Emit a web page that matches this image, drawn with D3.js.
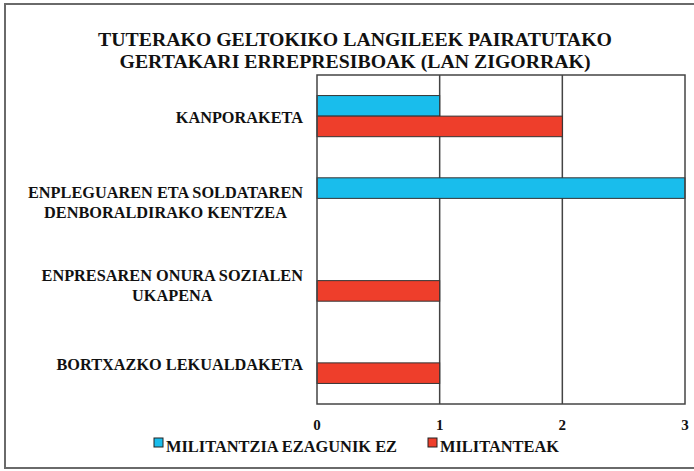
<!DOCTYPE html>
<html>
<head>
<meta charset="utf-8">
<script src="https://cdn.jsdelivr.net/npm/d3@7"></script>
<style>
  body { margin: 0; background: #fff; }
  svg { display: block; }
  text { font-family: "Liberation Serif", "Times New Roman", serif; font-weight: 700; fill: #111; }
</style>
</head>
<body>
<svg id="chart" width="694" height="471"></svg>
<script>
const titleLines = ["TUTERAKO GELTOKIKO LANGILEEK PAIRATUTAKO", "GERTAKARI ERREPRESIBOAK (LAN ZIGORRAK)"];
const categories = [
    ["KANPORAKETA"],
    ["ENPLEGUAREN ETA SOLDATAREN", "DENBORALDIRAKO KENTZEA"],
    ["ENPRESAREN ONURA SOZIALEN", "UKAPENA"],
    ["BORTXAZKO LEKUALDAKETA"]
];
const seriesNames = ["MILITANTZIA EZAGUNIK EZ", "MILITANTEAK"];
const unknownValues = [1, 3, 0, 0];
const militantValues = [2, 0, 1, 1];
const xTicks = [0, 1, 2, 3];
const colors = ["#19bdec", "#ee3e2b"];

const svg = d3.select("#chart");

// outer frame
svg.append("rect")
    .attr("x", 5).attr("y", 4)
    .attr("width", 700).attr("height", 464)
    .attr("fill", "none")
    .attr("stroke", "#6a6a6a")
    .attr("stroke-width", 2);

svg.append("text")
    .attr("text-anchor", "middle")
    .attr("font-size", "19.8px")
    .selectAll("tspan")
    .data(titleLines)
    .join("tspan")
    .attr("x", 355)
    .attr("y", (d, i) => 46 + i * 21.5)
    .text(d => d);

const plotL = 317, plotR = 685, plotT = 75, plotB = 404;
const labelX = 303;

const x = d3.scaleLinear().domain([0, 3]).range([plotL, plotR]);
const y = d3.scaleBand()
    .domain(d3.range(categories.length))
    .range([plotT, plotB])
    .paddingInner(0.5)
    .paddingOuter(0.25);
const ySub = d3.scaleBand().domain([0, 1]).range([0, y.bandwidth()]);

// gridlines
svg.selectAll(".grid")
    .data(xTicks.slice(1, -1))
    .join("line")
    .attr("class", "grid")
    .attr("x1", d => x(d)).attr("x2", d => x(d))
    .attr("y1", plotT).attr("y2", plotB)
    .attr("stroke", "#444")
    .attr("stroke-width", 1.5);

const rows = categories.map((c, i) => [unknownValues[i], militantValues[i]]);

svg.selectAll(".group")
    .data(rows)
    .join("g")
    .attr("class", "group")
    .attr("transform", (d, i) => `translate(0,${y(i)})`)
    .selectAll("rect")
    .data(d => d.map((v, s) => ({ v, s })).filter(d => d.v > 0))
    .join("rect")
    .attr("x", x(0))
    .attr("y", d => ySub(d.s))
    .attr("width", d => x(d.v) - x(0))
    .attr("height", ySub.bandwidth())
    .attr("fill", d => colors[d.s])
    .attr("stroke", "#333")
    .attr("stroke-width", 1);

svg.append("rect")
    .attr("x", plotL).attr("y", plotT)
    .attr("width", plotR - plotL).attr("height", plotB - plotT)
    .attr("fill", "none")
    .attr("stroke", "#444")
    .attr("stroke-width", 1.5);

// category labels (first line right-aligned, further lines centred under it)
svg.selectAll(".cat")
    .data(categories)
    .join("text")
    .attr("class", "cat")
    .attr("font-size", "16.3px")
    .each(function(lines, i) {
        const cy = y(i) + y.bandwidth() / 2;
        const y0 = lines.length > 1 ? cy : cy + 7;
        const spans = d3.select(this).selectAll("tspan")
            .data(lines)
            .join("tspan")
            .attr("x", labelX)
            .attr("y", (d, j) => y0 + j * 20)
            .attr("text-anchor", "end")
            .text(d => d);
        if (lines.length > 1) {
            const w = spans.node().getComputedTextLength();
            spans.filter((d, j) => j > 0)
                .attr("text-anchor", "middle")
                .attr("x", labelX - w / 2);
        }
    });

// x tick labels
svg.selectAll(".tick")
    .data(xTicks)
    .join("text")
    .attr("class", "tick")
    .attr("x", d => x(d))
    .attr("y", 430)
    .attr("text-anchor", "middle")
    .attr("font-size", "15px")
    .text(d => d);

// legend
const legendX = [154, 428];
seriesNames.forEach((name, i) => {
    svg.append("rect")
        .attr("x", legendX[i]).attr("y", 438)
        .attr("width", 9).attr("height", 9)
        .attr("fill", colors[i])
        .attr("stroke", "#222")
        .attr("stroke-width", 1);
    svg.append("text")
        .attr("x", legendX[i] + 12)
        .attr("y", 452)
        .attr("font-size", "16.4px")
        .text(name);
});
</script>
</body>
</html>
